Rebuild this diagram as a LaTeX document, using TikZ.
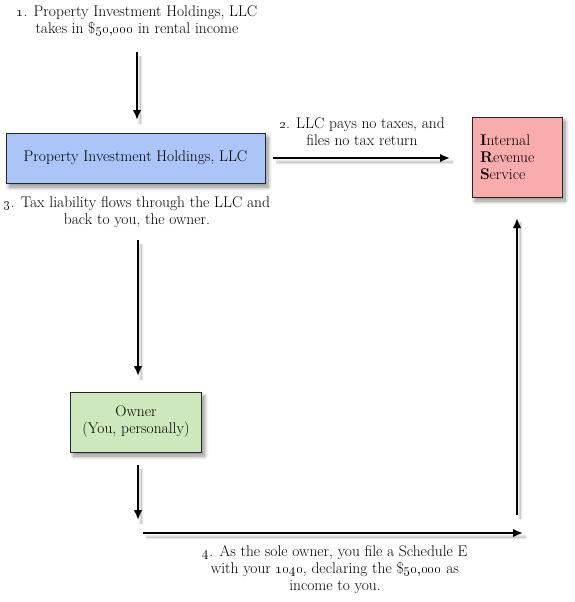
\documentclass[tikz,border=0pt]{standalone}
\usetikzlibrary{arrows.meta,shadows.blur}
\definecolor{llcblue}{RGB}{172,197,248}
\definecolor{irspink}{RGB}{249,172,172}
\definecolor{ownergreen}{RGB}{204,232,188}
\tikzset{
  lbl/.style={align=center,font=\fontsize{15.5}{17}\selectfont,inner sep=0pt},
  boxnode/.style={draw=black!85,line width=0.9pt,font=\fontsize{15.5}{17}\selectfont,
    blur shadow={shadow xshift=3pt,shadow yshift=-4pt,shadow blur radius=4pt,shadow blur steps=10,shadow opacity=45}},
  flow/.style={line width=2.2pt,-{Latex[length=10pt,width=8.5pt]},
    blur shadow={shadow xshift=3pt,shadow yshift=-4pt,shadow blur radius=3pt,shadow blur steps=8,shadow opacity=35}}
}
\begin{document}
\begin{tikzpicture}[x=1pt,y=-1pt]
\useasboundingbox (0,0) rectangle (574,602);
% text labels
\node[lbl] (t1) at (137,21) {\oldstylenums{1}. Property Investment Holdings, LLC\\takes in \$\oldstylenums{50,000} in rental income};
\node[lbl] (t2) at (362,132) {\oldstylenums{2}. LLC pays no taxes, and\\files no tax return};
\node[lbl] (t3) at (137,212) {\oldstylenums{3}. Tax liability flows through the LLC and\\back to you, the owner.};
\node[lbl] (t4) at (335,570) {\oldstylenums{4}. As the sole owner, you file a Schedule E\\with your \oldstylenums{1040}, declaring the \$\oldstylenums{50,000} as\\income to you.};
% boxes
\node[boxnode,fill=llcblue,minimum width=259pt,minimum height=50pt] (llc) at (135.5,158) {Property Investment Holdings, LLC};
\node[boxnode,fill=ownergreen,minimum width=131pt,minimum height=60pt,align=center] (owner) at (136,422) {Owner\\(You, personally)};
\node[boxnode,fill=irspink,minimum width=90pt,minimum height=80pt,align=left,text width=74pt,inner sep=0pt] (irs) at (517,157) {\textbf{I}nternal\\\textbf{R}evenue\\\textbf{S}ervice};
% arrow end points
\coordinate (a1s) at (137,52);  \coordinate (a1e) at (137,120);
\coordinate (a2s) at (273,158); \coordinate (a2e) at (450,158);
\coordinate (a3s) at (138,240); \coordinate (a3e) at (138,376);
\coordinate (a4s) at (138,465); \coordinate (a4e) at (138,520);
\coordinate (h0) at (143,533);  \coordinate (h1) at (523,533);
\coordinate (u0) at (517,515);  \coordinate (u1) at (517,218);
% arrows
\draw[flow] (a1s) -- (a1e);
\draw[flow] (a2s) -- (a2e);
\draw[flow] (a3s) -- (a3e);
\draw[flow] (a4s) -- (a4e);
\draw[flow] (h0) -- (h1);
\draw[flow] (u0) -- (u1);
\end{tikzpicture}
\end{document}
